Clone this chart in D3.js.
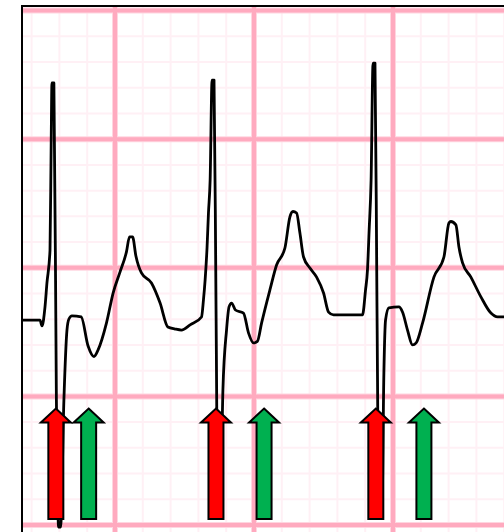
<!DOCTYPE html>
<html><head><meta charset="utf-8">
<script src="https://cdn.jsdelivr.net/npm/d3@7"></script>
<style>html,body{margin:0;padding:0;background:#fff;overflow:hidden}</style>
</head><body>
<svg id="c" width="504" height="532"></svg>
<script>
// ECG trace in grid units (1 small box = 1 mm): time (x) and amplitude (y)
const traceTime = [
  1.71, 2.32, 2.39, 2.50, 2.57, 2.68, 2.72, 2.75, 2.82, 2.91, 2.99, 3.06, 3.18, 3.29, 3.36, 3.47,
  3.80, 4.05, 4.26, 4.41, 4.71, 4.95, 5.20, 5.43, 5.54, 5.65, 5.77, 5.97, 6.33, 6.64, 6.92, 7.18,
  7.41, 7.72, 8.13,
  8.20, 8.26, 8.33, 8.38, 8.44, 8.51, 8.58, 8.65, 8.72, 8.80, 8.90, 9.03, 9.12, 9.21, 9.35, 9.64,
  9.82, 10.00, 10.14, 10.29, 10.59, 10.83, 11.13, 11.31, 11.42, 11.55, 11.67, 11.80, 12.03, 12.27,
  12.52, 12.70, 12.88, 13.11,
  13.92, 14.03, 14.10, 14.16, 14.23, 14.30, 14.37, 14.44, 14.51, 14.62, 14.69, 14.75, 14.87, 15.23,
  15.36, 15.54, 15.72, 15.85, 16.08, 16.49, 16.85, 17.03, 17.10, 17.28, 17.39, 17.52, 17.82, 18.18,
  18.54, 18.78, 19.05
];
const traceAmp = [
  7.95, 7.95, 7.72, 8.46, 9.39, 10.67, 14.56, 17.17, 17.17, 4.84, -0.10, -0.10, 4.84, 7.56, 7.99, 8.11,
  8.07, 6.94, 6.53, 6.79, 7.83, 9.00, 9.82, 10.60, 11.18, 11.18, 10.44, 9.78, 9.39, 8.61, 7.68, 7.60,
  7.56, 7.76, 8.07,
  8.73, 9.51, 10.79, 12.11, 13.39, 17.28, 17.28, 8.73, 0.25, 0.25, 5.23, 7.56, 8.46, 8.61, 8.34, 8.22,
  7.45, 7.06, 7.12, 7.83, 9.12, 10.09, 10.75, 11.96, 12.17, 12.11, 11.33, 10.40, 9.97, 9.62,
  9.00, 8.26, 8.15, 8.15,
  8.15, 9.12, 9.90, 11.45, 13.39, 17.94, 17.94, 8.73, 0.49, 0.49, 5.89, 7.95, 8.42, 8.46,
  8.26, 7.56, 6.98, 7.06, 7.83, 9.62, 10.40, 11.72, 11.78, 11.65, 10.79, 10.17, 9.62, 8.85,
  8.22, 8.07, 8.07
];
// arrow markers (time positions) and their vertical extent
const redArrowTime = [2.89, 8.65, 14.40];
const greenArrowTime = [4.07, 10.38, 16.13];
const arrowTipAmp = 4.51;
const arrowBaseAmp = 0.21;
// grid lines (mm), major every 5
const xGridTicks = [0,1,2,3,4,5,6,7,8,9,10,11,12,13,14,15,16,17,18,19];
const yGridTicks = [0,1,2,3,4,5,6,7,8,9,10,11,12,13,14,15,16,17,18,19,20];

const W = 504, H = 532;
const svg = d3.select("#c");
const x = d3.scaleLinear().domain([0, 20]).range([-24.5, 531.5]);
const y = d3.scaleLinear().domain([0, 20]).range([524.5, 10.1]);

const plotL = 23, plotT = 7;
svg.append("defs").append("clipPath").attr("id", "clip")
  .append("rect").attr("x", plotL).attr("y", plotT).attr("width", W - plotL).attr("height", H - plotT);
const g = svg.append("g").attr("clip-path", "url(#clip)");

const isMajor = d => Math.abs(d % 5) < 1e-9;

function vLines(vals, width, color) {
  const a = g.append("g").attr("transform", `translate(0,${H})`)
    .call(d3.axisBottom(x).tickValues(vals).tickSize(-H).tickFormat(""));
  a.select(".domain").remove();
  a.selectAll(".tick line").attr("stroke", color).attr("stroke-width", width);
}
function hLines(vals, width, color) {
  const a = g.append("g")
    .call(d3.axisRight(y).tickValues(vals).tickSize(W).tickFormat(""));
  a.select(".domain").remove();
  a.selectAll(".tick line").attr("stroke", color).attr("stroke-width", width);
}
const xMinor = xGridTicks.filter(d => !isMajor(d)), xMajor = xGridTicks.filter(isMajor);
const yMinor = yGridTicks.filter(d => !isMajor(d)), yMajor = yGridTicks.filter(isMajor);
vLines(xMinor, 2, "#fff0f5");
hLines(yMinor, 2, "#fff0f5");
vLines(xMajor, 6, "#ffd6e0");
hLines(yMajor, 6, "#ffd6e0");
vLines(xMajor, 4, "#ffaabf");
hLines(yMajor, 4, "#ffaabf");

// ECG trace
const pts = traceTime.map((t, i) => [t, traceAmp[i]]);
g.append("path").datum(pts)
  .attr("fill", "none").attr("stroke", "#000").attr("stroke-width", 2.8)
  .attr("stroke-linejoin", "round").attr("stroke-linecap", "round")
  .attr("d", d3.line().curve(d3.curveMonotoneX).x(d => x(d[0])).y(d => y(d[1])));

// arrows
const headHalf = 15, shaftHalf = 7.5, headLen = 14;
function arrowPath(t) {
  const cx = x(t), ty = y(arrowTipAmp), by = y(arrowBaseAmp), hy = ty + headLen;
  return `M${cx},${ty}L${cx+headHalf},${hy}L${cx+shaftHalf},${hy}L${cx+shaftHalf},${by}` +
         `L${cx-shaftHalf},${by}L${cx-shaftHalf},${hy}L${cx-headHalf},${hy}Z`;
}
g.selectAll(".red").data(redArrowTime).join("path").attr("class", "red")
  .attr("d", arrowPath).attr("fill", "#ff0000").attr("stroke", "#000").attr("stroke-width", 2);
g.selectAll(".green").data(greenArrowTime).join("path").attr("class", "green")
  .attr("d", arrowPath).attr("fill", "#00b050").attr("stroke", "#000").attr("stroke-width", 2);

// frame (left and top edges)
svg.append("line").attr("x1", 22).attr("x2", 22).attr("y1", 5).attr("y2", H)
  .attr("stroke", "#000").attr("stroke-width", 2);
svg.append("line").attr("x1", 21).attr("x2", W).attr("y1", 6).attr("y2", 6)
  .attr("stroke", "#000").attr("stroke-width", 2);
</script>
</body></html>
